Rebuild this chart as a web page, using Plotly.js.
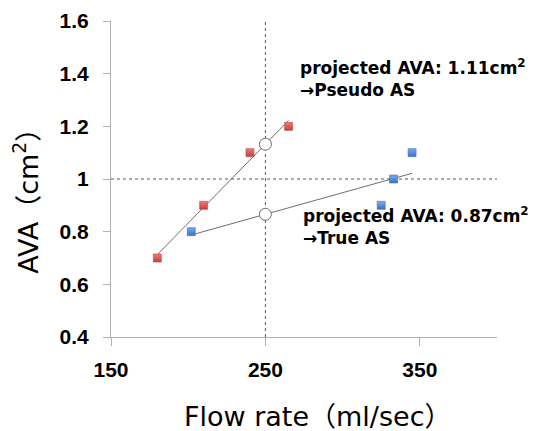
<!DOCTYPE html>
<html>
<head>
<meta charset="utf-8">
<script src="https://cdn.plot.ly/plotly-3.0.1.min.js"></script>
<style>html,body{margin:0;padding:0;background:#fff;}#chart{width:538px;height:431px;}</style>
</head>
<body>
<div id="chart"></div>
<script>
// ---- data ----
const flowPseudo = [180, 210, 240, 265];
const avaPseudo  = [0.7, 0.9, 1.1, 1.2];
const flowTrue   = [202, 325, 333, 345];
const avaTrue    = [0.8, 0.9, 1.0, 1.1];
const projFlow   = 250;     // projected flow rate
const refAVA     = 1.0;     // AVA threshold
const xTickVals  = [150, 250, 350];
const xTickText  = ['150', '250', '350'];
const yTickVals  = [0.4, 0.6, 0.8, 1.0, 1.2, 1.4, 1.6];
const yTickText  = ['0.4', '0.6', '0.8', '1', '1.2', '1.4', '1.6'];
const xTitle = 'Flow rate（ml/sec）';
const yTitle = 'AVA（cm<sup>2</sup>）';
const label1 = 'projected AVA: 1.11cm<sup>2</sup><br>→Pseudo AS';
const label2 = 'projected AVA: 0.87cm<sup>2</sup><br>→True AS';

function fit(xs, ys) {
  const n = xs.length;
  const mx = xs.reduce((a, b) => a + b, 0) / n;
  const my = ys.reduce((a, b) => a + b, 0) / n;
  let sxy = 0, sxx = 0;
  for (let i = 0; i < n; i++) { sxy += (xs[i] - mx) * (ys[i] - my); sxx += (xs[i] - mx) ** 2; }
  const m = sxy / sxx;
  return x => my + m * (x - mx);
}
const fP = fit(flowPseudo, avaPseudo);
const fT = fit(flowTrue, avaTrue);
const ends = xs => [Math.min(...xs), Math.max(...xs)];
const eP = ends(flowPseudo), eT = ends(flowTrue);

const lineStyle = {color: '#6e6e6e', width: 1};
const traces = [
  {x: eP, y: eP.map(fP), mode: 'lines', line: lineStyle, hoverinfo: 'skip'},
  {x: eT, y: eT.map(fT), mode: 'lines', line: lineStyle, hoverinfo: 'skip'},
  {x: flowPseudo, y: avaPseudo, mode: 'markers',
   marker: {symbol: 'square', size: 8, color: '#f07878', gradient: {type: 'vertical', color: '#c83c3c'}, line: {color: '#b84848', width: 0.6}}},
  {x: flowTrue, y: avaTrue, mode: 'markers',
   marker: {symbol: 'square', size: 8, color: '#7aaaf0', gradient: {type: 'vertical', color: '#3a70c8'}, line: {color: '#3f6fb8', width: 0.6}}},
  {x: [projFlow, projFlow], y: [fP(projFlow), fT(projFlow)], mode: 'markers',
   marker: {symbol: 'circle', size: 12, color: '#ffffff', line: {color: '#6e6e6e', width: 1}}}
];

const tickFont = {family: 'Liberation Sans, Arial, sans-serif', size: 21, color: '#000', weight: 'bold'};
const titleFont = {family: 'DejaVu Sans, Noto Sans CJK JP, sans-serif', size: 27, color: '#000'};
const annFont = {family: 'DejaVu Sans, sans-serif', size: 17, color: '#000', weight: 'bold'};

const layout = {
  width: 538, height: 431,
  margin: {l: 111, r: 41, t: 21, b: 94},
  paper_bgcolor: '#fff', plot_bgcolor: '#fff',
  showlegend: false,
  xaxis: {
    range: [150, 400], tickvals: xTickVals, ticktext: xTickText,
    showgrid: false, zeroline: false, showline: true, linecolor: '#b0b0b0', linewidth: 1,
    ticks: 'outside', ticklen: 8, tickcolor: '#b0b0b0', ticklabelstandoff: 6,
    tickfont: tickFont
  },
  yaxis: {
    range: [0.4, 1.6], tickvals: yTickVals, ticktext: yTickText,
    showgrid: false, zeroline: false, showline: true, linecolor: '#b0b0b0', linewidth: 1,
    ticks: 'outside', ticklen: 7, tickcolor: '#b0b0b0', ticklabelstandoff: 10,
    tickfont: tickFont
  },
  shapes: [
    {type: 'line', xref: 'x', yref: 'y', x0: projFlow, x1: projFlow, y0: 0.4, y1: 1.6,
     line: {color: '#555', width: 1, dash: 'dot'}, layer: 'below'},
    {type: 'line', xref: 'x', yref: 'y', x0: 150, x1: 400, y0: refAVA, y1: refAVA,
     line: {color: '#555', width: 1, dash: 'dot'}, layer: 'below'}
  ],
  annotations: [
    {x: -0.2202, y: 0.45, xref: 'paper', yref: 'paper', xanchor: 'center', yanchor: 'middle',
     textangle: -90, text: yTitle, showarrow: false, font: titleFont},
    {x: 0.5337, y: -0.252, xref: 'paper', yref: 'paper', xanchor: 'center', yanchor: 'middle',
     text: xTitle, showarrow: false, font: titleFont},
    {x: 270.8, y: 1.383, xref: 'x', yref: 'y', xanchor: 'left', yanchor: 'middle', align: 'left', text: label1, showarrow: false, font: annFont},
    {x: 273.2, y: 0.82, xref: 'x', yref: 'y', xanchor: 'left', yanchor: 'middle', align: 'left', text: label2, showarrow: false, font: annFont}
  ]
};

Plotly.newPlot('chart', traces, layout, {displayModeBar: false, staticPlot: true});
</script>
</body>
</html>
